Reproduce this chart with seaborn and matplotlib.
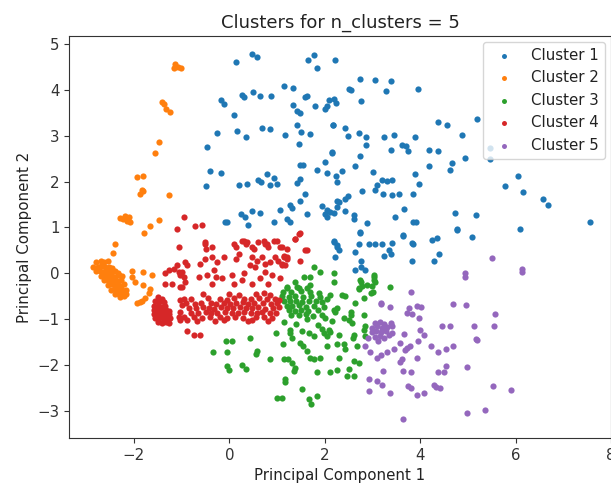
import matplotlib
matplotlib.use("Agg")
import matplotlib.pyplot as plt
import seaborn as sns
import pandas as pd

# ---- data ----
cluster_names = ["Cluster 1", "Cluster 2", "Cluster 3", "Cluster 4", "Cluster 5"]

cluster1_points = [
    (0.13, 4.60), (0.48, 4.78), (0.58, 4.71), (1.64, 4.64), (1.78, 4.76), (1.84, 4.48), (2.22, 4.64),
    (-0.17, 3.78), (-0.12, 3.69), (0.27, 3.89), (0.31, 3.83), (0.50, 3.95), (0.65, 3.87), (0.88, 3.87),
    (1.15, 4.07), (1.34, 4.03), (1.58, 3.85), (1.63, 3.87), (1.33, 3.67), (1.41, 3.54), (1.48, 3.49),
    (1.79, 3.65), (2.01, 3.58), (2.05, 3.65), (2.08, 3.78), (0.10, 3.44),
    (-0.26, 3.06), (0.16, 3.11), (0.34, 2.97), (0.69, 3.16), (0.85, 3.14), (1.17, 3.01), (1.42, 3.22),
    (1.50, 3.08), (1.69, 3.04), (1.46, 2.81), (2.17, 3.22), (2.15, 2.63), (-0.47, 2.76),
    (-0.41, 2.22), (-0.17, 2.18), (-0.49, 1.91), (0.20, 1.93), (0.37, 1.95), (0.60, 2.04), (0.67, 1.99),
    (0.79, 2.17), (0.93, 2.08), (0.85, 1.92), (0.99, 1.95), (1.48, 2.36), (1.55, 2.36), (1.49, 2.06),
    (1.42, 1.97), (1.84, 2.25), (2.05, 2.18), (2.24, 2.11), (2.01, 2.43),
    (1.58, 1.72), (1.49, 1.57), (1.27, 1.50), (1.31, 1.43), (1.06, 1.37), (0.25, 1.29), (0.32, 1.23),
    (0.48, 1.36), (0.65, 1.32), (-0.10, 1.13), (-0.05, 1.11), (0.39, 1.05), (0.93, 1.11), (1.21, 1.18),
    (1.27, 1.11), (1.63, 1.30), (1.94, 1.47), (2.05, 1.37), (2.01, 1.29), (2.05, 1.22), (2.10, 1.33),
    (2.26, 1.57), (2.19, 0.71), (2.26, 0.61),
    (2.73, 4.24), (3.05, 4.21), (3.38, 4.19), (2.50, 4.02), (2.56, 3.99), (3.29, 3.98), (3.96, 4.01),
    (2.19, 3.80), (2.24, 3.71), (2.76, 3.76), (4.37, 3.30), (4.56, 3.22), (5.19, 3.37), (2.17, 3.22),
    (2.43, 3.17), (2.48, 2.99), (2.71, 3.06), (2.87, 2.97), (3.24, 2.97), (3.45, 3.02), (3.89, 2.97),
    (4.88, 3.01), (2.87, 2.80), (3.62, 2.79), (3.71, 2.78), (3.74, 2.66), (3.38, 2.68), (4.19, 2.68),
    (4.37, 2.66), (4.95, 2.52), (4.67, 2.40), (4.63, 2.24), (2.15, 2.65), (2.73, 2.56), (2.64, 2.34),
    (2.36, 2.23), (2.26, 1.99), (3.01, 2.21), (3.89, 2.17), (4.18, 2.34), (3.20, 2.04), (3.31, 2.02),
    (3.41, 2.04), (3.10, 1.93), (3.06, 1.82), (3.97, 1.95), (2.78, 1.80), (3.22, 1.72), (3.41, 1.70),
    (3.55, 1.72), (3.85, 1.72), (2.48, 1.68), (2.43, 1.61), (2.29, 1.56), (2.26, 1.44), (2.19, 1.32),
    (2.61, 1.27), (2.61, 1.18), (2.43, 1.36), (2.89, 1.09), (2.73, 0.90), (3.48, 1.23), (3.66, 1.40),
    (3.86, 1.11), (3.92, 1.13), (3.64, 0.83), (3.85, 0.65), (4.25, 0.72), (4.36, 0.77), (4.72, 1.31),
    (5.18, 1.28), (4.77, 0.96), (5.09, 0.80), (5.77, 1.91), (6.05, 2.12), (6.16, 1.77), (6.58, 1.62),
    (6.67, 1.50), (6.09, 0.96), (7.55, 1.13), (5.47, 2.74), (5.47, 2.49),
    (2.73, 0.89), (2.19, 0.68), (2.29, 0.50), (2.22, 0.35), (2.64, 0.46), (2.71, 0.64), (2.92, 0.64),
    (3.06, 0.64), (3.20, 0.64), (3.41, 0.66), (3.34, 0.50), (3.24, 0.39), (3.38, 0.43), (2.75, 0.28),
    (2.64, 0.07), (2.75, 0.14), (2.85, 0.08), (3.65, 0.82), (3.83, 0.66), (3.83, 0.26), (4.30, 0.27),
    (4.39, 0.43), (4.77, 0.94), (2.26, 0.57),
]

cluster2_points = [
    (-1.13, 4.55), (-1.08, 4.50), (-1.01, 4.46), (-1.15, 4.47), (-1.41, 3.74), (-1.37, 3.69),
    (-1.32, 3.58), (-1.25, 3.51), (-1.48, 2.86), (-1.55, 2.61), (-1.94, 2.10), (-1.81, 2.13),
    (-1.83, 1.82), (-1.87, 1.73), (-1.80, 1.79), (-1.27, 1.70), (-2.29, 1.20), (-2.18, 1.25),
    (-2.11, 1.22), (-2.15, 1.14), (-2.08, 1.11), (-2.22, 1.18), (-1.48, 1.16), (-1.66, 1.04),
    (-1.78, 0.89), (-2.39, 0.64), (-2.43, 0.45),
    (-2.04, 0.05), (-1.80, 0.03), (-1.62, -0.04), (-2.04, -0.08), (-1.97, -0.18), (-1.80, -0.25),
    (-1.66, -0.33), (-1.69, -0.43), (-1.76, -0.54), (-1.94, -0.65), (-1.83, -0.61), (-1.88, -0.63),
    (-2.80, 0.25), (-2.70, 0.27), (-2.62, 0.24), (-2.55, 0.26),
    (-2.85, 0.15), (-2.76, 0.14), (-2.68, 0.16), (-2.60, 0.13), (-2.52, 0.15), (-2.45, 0.12),
    (-2.80, 0.05), (-2.72, 0.06), (-2.64, 0.04), (-2.56, 0.06), (-2.48, 0.03), (-2.40, 0.05), (-2.33, 0.02),
    (-2.70, -0.05), (-2.62, -0.04), (-2.55, -0.06), (-2.47, -0.05), (-2.40, -0.07), (-2.32, -0.04), (-2.25, -0.06),
    (-2.62, -0.15), (-2.55, -0.14), (-2.48, -0.16), (-2.41, -0.15), (-2.34, -0.17), (-2.27, -0.14),
    (-2.55, -0.25), (-2.48, -0.24), (-2.41, -0.26), (-2.34, -0.25), (-2.27, -0.27), (-2.20, -0.24),
    (-2.48, -0.35), (-2.40, -0.34), (-2.32, -0.36), (-2.25, -0.35), (-2.17, -0.37),
    (-2.40, -0.45), (-2.32, -0.44), (-2.24, -0.46), (-2.16, -0.45),
    (-2.30, -0.51), (-2.20, -0.50),
]

cluster3_points = [
    (1.77, 0.14), (1.91, 0.03), (1.70, -0.07), (1.56, -0.07), (2.19, 0.00), (2.19, -0.18), (1.70, -0.25),
    (1.38, -0.18), (1.45, -0.32), (1.21, -0.32), (2.12, -0.47), (2.36, -0.47), (2.43, -0.48),
    (2.75, -0.18), (2.71, -0.32), (2.89, -0.25), (3.03, -0.07), (3.06, -0.18), (2.96, -0.43),
    (2.82, -0.54), (2.64, -0.65), (2.22, -0.83), (2.54, -0.83), (2.40, -0.97), (2.50, -1.01),
    (2.57, -1.08), (2.15, -1.04), (1.28, -1.22), (2.08, -1.22), (2.85, -1.15), (3.37, -0.29),
    (2.73, -0.15), (2.71, -0.33), (2.78, -0.28), (3.03, -0.04), (3.03, -0.15), (3.00, -0.28),
    (3.02, -0.40), (2.19, -0.79), (2.26, -0.76), (2.54, -0.90), (2.82, -0.90), (2.29, -1.33),
    (2.12, -1.28), (2.61, -1.33), (2.59, -1.40), (2.82, -1.22), (2.85, -1.37), (2.68, -1.58),
    (2.40, -1.54), (2.43, -1.65), (2.26, -1.54), (2.29, -1.85), (2.61, -1.90), (2.71, -1.94),
    (2.12, -2.14), (2.26, -2.10), (2.50, -2.07), (2.47, -2.23), (2.61, -2.24),
    (-0.08, -1.47), (0.06, -1.47), (0.44, -1.40), (-0.34, -1.72), (-0.05, -1.72), (0.58, -1.69),
    (0.55, -1.76), (0.85, -1.87), (-0.05, -2.01), (-0.01, -2.10), (0.27, -2.00), (0.34, -2.07),
    (0.97, -1.29), (1.28, -1.29), (1.31, -1.40), (1.13, -1.54), (1.49, -1.51), (1.55, -1.58),
    (1.63, -1.69), (1.14, -1.87), (1.24, -1.87), (1.31, -1.94), (1.38, -2.05), (1.35, -2.12),
    (1.70, -1.83), (1.77, -1.87), (1.91, -1.83), (1.66, -1.29), (1.77, -1.37), (1.98, -1.29),
    (2.05, -1.37), (1.84, -2.15), (2.05, -1.58), (1.17, -2.30), (1.17, -2.37), (1.52, -2.51),
    (1.00, -2.71), (1.10, -2.71), (1.66, -2.73), (1.83, -2.67), (1.71, -2.84),
    (1.20, -0.30), (1.42, -0.29), (1.62, -0.31),
    (1.12, -0.40), (1.30, -0.41), (1.50, -0.39), (1.70, -0.40), (1.88, -0.42),
    (1.10, -0.50), (1.25, -0.52), (1.38, -0.49), (1.55, -0.51), (1.72, -0.50), (1.90, -0.52), (2.05, -0.55),
    (1.15, -0.60), (1.28, -0.61), (1.40, -0.59), (1.52, -0.62), (1.68, -0.60), (1.82, -0.61), (1.95, -0.63),
    (1.20, -0.70), (1.32, -0.71), (1.45, -0.69), (1.60, -0.72), (1.78, -0.70), (1.98, -0.72),
    (1.25, -0.80), (1.38, -0.82), (1.50, -0.79), (1.65, -0.81), (1.85, -0.80),
    (1.30, -0.90), (1.45, -0.91), (1.60, -0.89), (1.75, -0.92), (1.95, -0.90),
    (1.15, -1.05), (1.40, -1.10), (1.62, -1.00), (1.85, -1.12), (2.00, -0.98),
    (1.52, -1.25), (1.95, -1.20),
]

cluster4_points = [
    (-0.94, 1.23), (-1.10, 0.96), (-0.71, 1.04), (-0.57, 1.06), (-1.06, 0.57), (-0.52, 0.64),
    (-0.48, 0.53), (0.09, 0.64), (0.30, 0.71), (0.37, 0.68), (0.51, 0.53), (0.72, 0.71), (0.79, 0.64),
    (0.93, 0.71), (1.07, 0.57), (1.38, 0.75), (1.48, 0.87), (1.62, 0.51),
    (-1.34, 0.00), (-1.27, 0.07), (-1.17, 0.10), (-1.10, 0.18), (-1.06, 0.03), (-1.03, -0.04),
    (-1.34, -0.22), (-1.20, -0.22), (-1.03, -0.29), (-0.96, -0.08), (-0.89, 0.18),
    (-0.50, 0.68), (-0.36, 0.57), (0.13, 0.57), (0.27, 0.71), (0.34, 0.64), (0.48, 0.57), (0.61, 0.68),
    (0.75, 0.64), (0.82, 0.57), (1.00, 0.71), (1.21, 0.53),
    (-0.92, 0.25), (-0.61, 0.21), (-0.50, 0.32), (-0.36, 0.35), (-0.26, 0.25), (-0.12, 0.35),
    (0.13, 0.32), (0.20, 0.43), (0.48, 0.35), (0.58, 0.28), (0.68, 0.35), (0.44, 0.18), (0.54, 0.14),
    (0.75, 0.21), (0.86, 0.25), (0.96, 0.35), (1.03, 0.28), (1.10, 0.18), (1.21, 0.32), (1.14, 0.39),
    (-0.99, 0.03), (-0.64, -0.07), (-0.47, -0.04), (-0.33, 0.07), (-0.29, -0.07), (-0.36, -0.22),
    (-0.15, -0.11), (0.06, -0.04), (0.09, -0.22), (0.27, -0.14), (0.30, 0.00), (0.48, -0.22),
    (0.65, -0.11), (0.75, 0.03), (0.89, -0.04), (0.82, -0.22), (1.07, -0.11), (-0.92, -0.18),
    (-0.99, -0.29),
    (1.38, 0.75), (1.45, 0.86), (1.10, 0.57), (1.14, 0.35), (1.21, 0.35), (1.10, 0.21), (1.17, 0.18),
    (1.49, 0.28), (1.59, 0.50),
    (-1.50, -0.52), (-1.42, -0.55), (-1.55, -0.60), (-1.47, -0.62), (-1.38, -0.63), (-1.58, -0.70),
    (-1.50, -0.70), (-1.42, -0.72), (-1.34, -0.71), (-1.57, -0.80), (-1.49, -0.79), (-1.41, -0.80),
    (-1.33, -0.79), (-1.26, -0.81), (-1.58, -0.88), (-1.50, -0.89), (-1.42, -0.88), (-1.34, -0.90),
    (-1.27, -0.88), (-1.55, -0.97), (-1.47, -0.98), (-1.39, -0.96), (-1.31, -0.98), (-1.24, -0.97),
    (-1.50, -1.06), (-1.42, -1.07), (-1.33, -1.05), (-1.26, -1.08),
    (-1.03, -0.58), (-0.99, -0.68), (-1.03, -0.83), (-0.96, -0.94), (-0.89, -1.01), (-1.03, -1.01),
    (-0.89, -1.26), (-0.75, -1.35), (-0.62, -1.33), (-1.06, -0.94), (0.48, -1.01),
    (-0.55, -0.45), (0.00, -0.44), (0.20, -0.46), (0.55, -0.45), (0.72, -0.43), (0.85, -0.46),
    (-0.95, -0.55), (-0.80, -0.56), (-0.45, -0.54), (-0.20, -0.55), (-0.05, -0.57), (0.10, -0.54),
    (0.30, -0.56), (0.45, -0.55), (0.62, -0.53), (0.78, -0.56), (0.95, -0.55), (1.05, -0.57),
    (-0.90, -0.65), (-0.72, -0.66), (-0.60, -0.64), (-0.38, -0.65), (-0.28, -0.67), (-0.12, -0.64),
    (0.02, -0.66), (0.15, -0.65), (0.28, -0.63), (0.40, -0.66), (0.52, -0.65), (0.70, -0.64),
    (0.88, -0.67), (1.00, -0.65),
    (-0.85, -0.75), (-0.70, -0.76), (-0.55, -0.74), (-0.42, -0.75), (-0.32, -0.77), (-0.18, -0.74),
    (-0.05, -0.76), (0.08, -0.75), (0.22, -0.73), (0.35, -0.76), (0.48, -0.75), (0.60, -0.74),
    (0.75, -0.77), (0.92, -0.75), (1.05, -0.74),
    (-0.80, -0.85), (-0.65, -0.86), (-0.48, -0.84), (-0.38, -0.85), (-0.25, -0.87), (-0.10, -0.84),
    (0.05, -0.86), (0.18, -0.85), (0.30, -0.83), (0.45, -0.86), (0.58, -0.85), (0.68, -0.84),
    (0.85, -0.87), (0.98, -0.85),
    (-0.75, -0.95), (-0.58, -0.96), (-0.40, -0.94), (-0.20, -0.95), (-0.05, -0.97), (0.12, -0.94),
    (0.28, -0.96), (0.55, -0.95), (0.72, -0.94), (0.90, -0.96),
    (-0.68, -1.03), (-0.30, -1.04), (-0.12, -1.02), (0.40, -1.03), (0.80, -1.04),
]

cluster5_points = [
    (5.51, 0.34), (4.95, 0.00), (4.95, -0.08), (6.14, 0.10), (6.14, 0.03), (3.80, -0.41),
    (3.17, -0.66), (3.36, -0.73), (3.76, -0.76), (3.73, -0.86), (3.83, -0.88), (3.94, -0.71),
    (4.01, -0.73), (3.97, -0.97), (4.69, -0.66), (4.97, -0.69), (5.56, -0.88), (4.46, -1.15),
    (4.62, -1.14), (5.12, -1.14), (5.54, -1.14), (5.16, -1.42), (5.19, -1.45), (3.67, -1.31),
    (4.00, -1.24), (4.09, -1.35), (3.95, -1.47), (3.57, -1.51), (4.23, -1.58), (4.37, -1.71),
    (4.55, -1.64), (4.69, -1.57), (3.73, -1.62), (3.69, -1.67), (3.78, -1.57), (3.45, -1.65),
    (3.30, -1.71), (3.17, -1.78), (3.10, -1.83), (2.94, -1.72), (2.85, -1.57), (3.62, -1.87),
    (3.58, -1.92), (3.94, -1.85), (3.22, -2.13), (3.63, -2.13), (3.80, -2.15), (4.37, -2.15),
    (4.49, -2.14), (4.55, -2.01), (4.98, -2.03), (2.92, -2.30), (3.10, -2.35), (3.20, -2.43),
    (2.92, -2.55), (3.36, -2.60), (3.74, -2.46), (3.81, -2.50), (3.94, -2.64), (4.09, -2.60),
    (4.29, -2.43), (4.34, -2.48), (4.42, -2.50), (5.53, -2.44), (5.91, -2.53), (4.98, -3.03),
    (5.35, -2.98), (3.63, -3.16), (3.17, -0.65),
    (3.05, -1.08), (3.15, -1.05), (3.25, -1.10), (3.38, -1.08), (3.00, -1.18), (3.10, -1.15),
    (3.20, -1.18), (3.30, -1.16), (3.42, -1.15), (2.98, -1.28), (3.08, -1.25), (3.18, -1.28),
    (3.28, -1.25), (3.40, -1.30), (3.05, -1.38), (3.15, -1.36), (3.25, -1.40), (3.35, -1.35),
    (3.12, -1.46), (2.90, -1.40),
]

cluster_colors = ["#1f77b4", "#ff7f0e", "#2ca02c", "#d62728", "#9467bd"]

# ---- build table ----
all_points = [cluster1_points, cluster2_points, cluster3_points, cluster4_points, cluster5_points]
rows = []
for name, pts in zip(cluster_names, all_points):
    for x, y in pts:
        rows.append({"pc1": x, "pc2": y, "cluster": name})
df = pd.DataFrame(rows)

# ---- plot ----
sns.set_style("white")
plt.rcParams["font.family"] = ["DejaVu Sans"]
fig = plt.figure(figsize=(6.11, 4.91), dpi=100)
ax = fig.add_axes([0.113, 0.108, 0.887, 0.819])

for name, col in zip(cluster_names, cluster_colors):
    sub = df[df["cluster"] == name]
    sns.scatterplot(data=sub, x="pc1", y="pc2", color=col, s=20, linewidth=0,
                    label=name, ax=ax)

ax.set_xlim(-3.36, 8.0)
ax.set_ylim(-3.58, 5.17)
ax.set_xticks([-2, 0, 2, 4, 6, 8])
ax.set_yticks([-3, -2, -1, 0, 1, 2, 3, 4, 5])
ax.tick_params(axis="both", which="both", direction="out", length=3.5, width=0.8,
               labelsize=10.8, left=True, bottom=True, colors="#333333")
for sp in ax.spines.values():
    sp.set_color("#333333")
    sp.set_linewidth(0.8)
ax.set_title("Clusters for n_clusters = 5", fontsize=13, color="#222222")
ax.set_xlabel("Principal Component 1", fontsize=10.8, color="#222222")
ax.set_ylabel("Principal Component 2", fontsize=10.8, color="#222222")
leg = ax.legend(loc="upper right", fontsize=10.8, frameon=True, markerscale=0.8,
                borderaxespad=0.4)
for t in leg.get_texts():
    t.set_color("#222222")

fig.savefig("out.png", dpi=100)
